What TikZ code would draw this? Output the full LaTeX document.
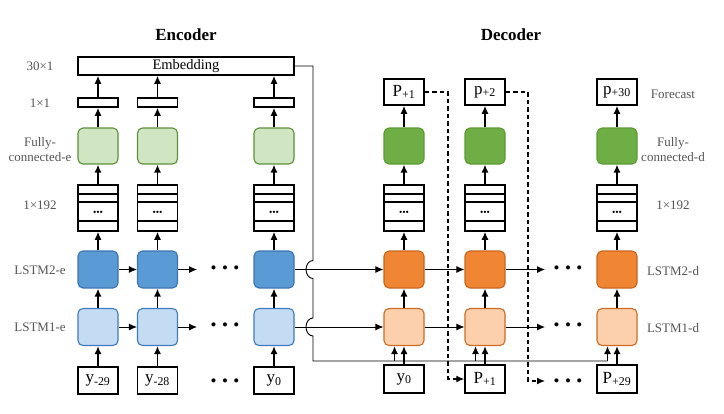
\documentclass[tikz,border=0pt]{standalone}
\usepackage{fontspec}
\setmainfont{Liberation Serif}
\usetikzlibrary{arrows.meta,calc}
\definecolor{bluetwo}{HTML}{5B9BD5}
\definecolor{bluetwob}{HTML}{3C74B0}
\definecolor{blueone}{HTML}{C4DCF3}
\definecolor{blueoneb}{HTML}{3F7BBE}
\definecolor{orangetwo}{HTML}{F08533}
\definecolor{orangetwob}{HTML}{C8661F}
\definecolor{orangeone}{HTML}{FDD0AD}
\definecolor{orangeoneb}{HTML}{CD6B22}
\definecolor{greentwo}{HTML}{6EAE45}
\definecolor{greentwob}{HTML}{5C9A35}
\definecolor{greenone}{HTML}{D0E6C2}
\definecolor{greenoneb}{HTML}{5E8E3C}
\definecolor{labgray}{HTML}{555555}
\begin{document}
\begin{tikzpicture}[x=1pt,y=-1pt,
  cell/.style={rounded corners=5pt, line width=1.1pt, minimum width=40pt, minimum height=37pt, inner sep=0pt},
  ltwoe/.style={cell, fill=bluetwo, draw=bluetwob},
  lonee/.style={cell, fill=blueone, draw=blueoneb},
  ltwod/.style={cell, fill=orangetwo, draw=orangetwob},
  loned/.style={cell, fill=orangeone, draw=orangeoneb},
  fce/.style={cell, minimum height=36pt, fill=greenone, draw=greenoneb},
  fcd/.style={cell, minimum height=36pt, fill=greentwo, draw=greentwob},
  plainbox/.style={draw, line width=1.5pt, inner sep=0pt, minimum width=40pt, fill=white},
  valbox/.style={plainbox, font=\fontsize{17}{17}\selectfont},
  onebox/.style={plainbox, minimum height=9pt},
  vecbox/.style={plainbox, minimum height=46pt, font=\fontsize{9.5}{9.5}\selectfont,
    path picture={
      \draw[line width=1.2pt] ([yshift=-9pt]path picture bounding box.north west) -- ([yshift=-9pt]path picture bounding box.north east);
      \draw[line width=1.2pt] ([yshift=-17pt]path picture bounding box.north west) -- ([yshift=-17pt]path picture bounding box.north east);
      \draw[line width=1.2pt] ([yshift=10pt]path picture bounding box.south west) -- ([yshift=10pt]path picture bounding box.south east);
    }},
  arr/.style={line width=1.5pt, -{Latex[length=8pt,width=7pt]}},
  harr/.style={line width=0.9pt, -{Latex[length=8pt,width=7pt]}},
  busline/.style={line width=0.9pt},
  dashedline/.style={line width=1.2pt, dash pattern=on 4.5pt off 3pt, -{Latex[length=8pt,width=7pt]}},
  side/.style={text=labgray, font=\fontsize{13}{15}\selectfont, align=center, inner sep=0pt},
  titletext/.style={font=\fontsize{17}{17}\selectfont\bfseries},
  bigdots/.style={font=\fontsize{17}{17}\selectfont, inner sep=0pt}
]
\useasboundingbox (0,0) rectangle (724,413);

% titles
\node[titletext] (tenc) at (186,35) {Encoder};
\node[titletext] (tdec) at (511,35) {Decoder};

% side labels
\node[side] (s1) at (40,66) {30×1};
\node[side] (s2) at (40,103) {1×1};
\node[side] (s3) at (40,149.5) {Fully-\\connected-e};
\node[side] (s4) at (40,205) {1×192};
\node[side] (s5) at (40,270) {LSTM2-e};
\node[side] (s6) at (40,327) {LSTM1-e};
\node[side] (r1) at (673,94) {Forecast};
\node[side] (r2) at (673,149.5) {Fully-\\connected-d};
\node[side] (r3) at (673,205) {1×192};
\node[side] (r4) at (673,271) {LSTM2-d};
\node[side] (r5) at (673,328) {LSTM1-d};

% embedding
\node[plainbox, minimum width=216pt, minimum height=18pt, font=\fontsize{14.5}{14.5}\selectfont] (emb) at (186,66) {Embedding};

% encoder columns
\foreach \n/\x/\lab in {a/98/y\textsubscript{-29}, b/157.5/y\textsubscript{-28}, c/274/y\textsubscript{0}}{
  \node[onebox] (o\n) at (\x,102.5) {};
  \node[fce] (f\n) at (\x,146) {};
  \node[vecbox] (v\n) at (\x,208) {\raisebox{-7pt}[0pt][0pt]{•••}};
  \node[ltwoe] (e\n) at (\x,269.5) {};
  \node[lonee] (g\n) at (\x,327) {};
  \node[valbox, minimum height=27pt] (i\n) at (\x,380.5) {\lab};
  \draw[arr] (i\n.north) -- (g\n.south);
  \draw[arr] (g\n.north) -- (e\n.south);
  \draw[arr] (e\n.north) -- (v\n.south);
  \draw[arr] (v\n.north) -- (f\n.south);
  \draw[arr] (f\n.north) -- (o\n.south);
  \draw[arr] (o\n.north) -- (o\n.north |- emb.south);
}

% decoder columns
\node[valbox, minimum height=26pt] (pa) at (404,92) {P\textsubscript{+1}};
\node[valbox, minimum height=26pt] (pb) at (485,92) {p\textsubscript{+2}};
\node[valbox, minimum height=26pt] (pc) at (617,92) {p\textsubscript{+30}};
\node[valbox, minimum height=28pt] (qa) at (404,379) {y\textsubscript{0}};
\node[valbox, minimum height=28pt] (qb) at (485,379) {P\textsubscript{+1}};
\node[valbox, minimum height=28pt] (qc) at (617,379) {P\textsubscript{+29}};
\foreach \n/\x in {a/404, b/485, c/617}{
  \node[fcd] (h\n) at (\x,146) {};
  \node[vecbox] (w\n) at (\x,208) {\raisebox{-7pt}[0pt][0pt]{•••}};
  \node[ltwod] (d\n) at (\x,269.5) {};
  \node[loned] (k\n) at (\x,327) {};
  \draw[arr] (q\n.north) -- (k\n.south);
  \draw[arr] (k\n.north) -- (d\n.south);
  \draw[arr] (d\n.north) -- (w\n.south);
  \draw[arr] (w\n.north) -- (h\n.south);
  \draw[arr] (h\n.north) -- (p\n.south);
}

% horizontal recurrent arrows
\coordinate (eend2) at (197,269.5);
\coordinate (eend1) at (197,327);
\coordinate (dend2) at (545,269.5);
\coordinate (dend1) at (545,327);
\draw[harr] (ea.east) -- (eb.west);
\draw[harr] (eb.east) -- (eend2);
\draw[harr] (ga.east) -- (gb.west);
\draw[harr] (gb.east) -- (eend1);
\draw[harr] (ec.east) -- (da.west);
\draw[harr] (gc.east) -- (ka.west);
\draw[harr] (da.east) -- (db.west);
\draw[harr] (db.east) -- (dend2);
\draw[harr] (ka.east) -- (kb.west);
\draw[harr] (kb.east) -- (dend1);

% ellipsis dots
\node[bigdots] (x1) at (225,269.5) {•\hspace{5.5pt}•\hspace{5.5pt}•};
\node[bigdots] (x2) at (225,327) {•\hspace{5.5pt}•\hspace{5.5pt}•};
\node[bigdots] (x3) at (225,383) {•\hspace{5.5pt}•\hspace{5.5pt}•};
\node[bigdots] (x4) at (568,269.5) {•\hspace{5.5pt}•\hspace{5.5pt}•};
\node[bigdots] (x5) at (568,327) {•\hspace{5.5pt}•\hspace{5.5pt}•};
\node[bigdots] (x6) at (568,383) {•\hspace{5.5pt}•\hspace{5.5pt}•};

% embedding bus with line jumps
\coordinate (bustop) at (313,66);
\coordinate (bus) at (313,361);
\draw[busline] (emb.east) -- (bustop) -- (313,260.5)
  arc[start angle=90, end angle=270, x radius=7pt, y radius=9pt]
  -- (313,318)
  arc[start angle=90, end angle=270, x radius=7pt, y radius=9pt]
  -- (bus) -- ($(bus -| kc.south)+(-9.5,0)$);
\foreach \n in {a,b,c}{
  \draw[arr] ($(bus -| k\n.south)+(-9.5,0)$) -- ($(k\n.south)+(-9.5,0)$);
}

% dashed feedback
\coordinate (fb1) at (448,92);
\coordinate (fb2) at (528,92);
\coordinate (fbend) at (545,381);
\draw[dashedline] (pa.east) -- (fb1) -- (fb1 |- qb.west) -- (qb.west);
\draw[dashedline] (pb.east) -- (fb2) -- (fb2 |- fbend) -- (fbend);
\end{tikzpicture}
\end{document}
